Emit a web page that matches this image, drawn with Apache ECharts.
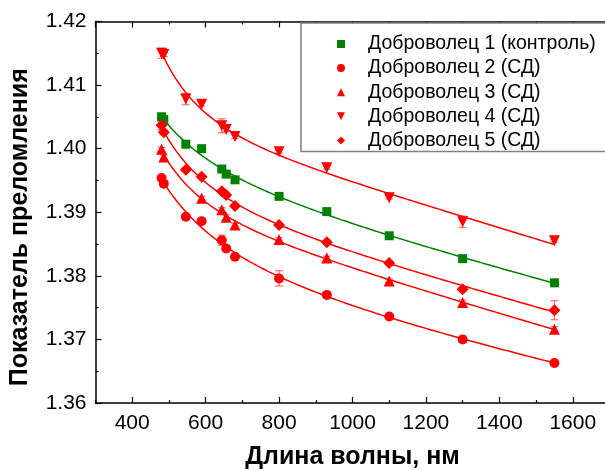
<!DOCTYPE html>
<html>
<head>
<meta charset="utf-8">
<script src="https://cdn.jsdelivr.net/npm/echarts@6/dist/echarts.min.js"></script>
<style>
  html, body { margin: 0; padding: 0; background: #fff; }
  #chart { width: 605px; height: 470px; }
</style>
</head>
<body>
<div id="chart"></div>
<script>
// Measurement wavelengths, nm
const wavelengths = [480, 486, 546, 589, 644, 656, 680, 800, 930, 1100, 1300, 1550];

const seriesNames = [
  'Доброволец 1 (контроль)',
  'Доброволец 2 (СД)',
  'Доброволец 3 (СД)',
  'Доброволец 4 (СД)',
  'Доброволец 5 (СД)'
];

// Refractive index per volunteer (null = not measured)
const volunteer1 = [1.4050, 1.4046, 1.4007, 1.4000, 1.3968, 1.3960, 1.3951, 1.3925, 1.3901, 1.3863, 1.3827, 1.3789];
const volunteer2 = [1.3954, 1.3945, 1.3893, 1.3886, 1.3856, 1.3843, 1.3830, 1.3796, 1.3770, 1.3736, 1.3700, 1.3663];
const volunteer3 = [1.3999, 1.3987, null,   1.3922, 1.3904, 1.3892, 1.3880, 1.3857, 1.3828, 1.3792, 1.3758, 1.3716];
const volunteer4 = [1.4150, 1.4148, 1.4078, 1.4070, 1.4036, 1.4030, 1.4019, 1.3995, 1.3970, 1.3923, 1.3885, 1.3855];
const volunteer5 = [1.4037, 1.4026, 1.3967, 1.3956, 1.3933, 1.3927, 1.3910, 1.3880, 1.3853, 1.3820, 1.3779, 1.3746];

// Standard deviations
const error1 = [0.0006, 0.0002, 0.0002, 0.0002, 0.0002, 0.0002, 0.0002, 0.0002, 0.0002, 0.0002, 0.0002, 0.0002];
const error2 = [0.0003, 0.0002, 0.0002, 0.0002, 0.0008, 0.0003, 0.0003, 0.0012, 0.0004, 0.0002, 0.0005, 0.0004];
const error3 = [0.0003, 0.0003, null,   0.0003, 0.0003, 0.0004, 0.0003, 0.0003, 0.0003, 0.0003, 0.0004, 0.0004];
const error4 = [0.0008, 0.0003, 0.0009, 0.0003, 0.0011, 0.0003, 0.0003, 0.0002, 0.0002, 0.0002, 0.0009, 0.0002];
const error5 = [0.0007, 0.0003, 0.0003, 0.0003, 0.0003, 0.0003, 0.0003, 0.0003, 0.0003, 0.0003, 0.0003, 0.0015];

// Y-axis tick labels
const yTicks = [1.36, 1.37, 1.38, 1.39, 1.40, 1.41, 1.42];

const RED = '#ff0000';
const GREEN = '#008000';
const FONT = '"Liberation Sans", Arial, sans-serif';
const DOWN_TRIANGLE = 'path://M0,0L2,0L1,2Z';

const styles = [
  { color: GREEN, symbol: 'rect', size: 9, bar: 'rgba(0,128,0,0.55)' },
  { color: RED, symbol: 'circle', size: 10, bar: 'rgba(255,0,0,0.55)' },
  { color: RED, symbol: 'triangle', size: 11, bar: 'rgba(255,0,0,0.55)' },
  { color: RED, symbol: DOWN_TRIANGLE, size: 11, bar: 'rgba(255,0,0,0.55)' },
  { color: RED, symbol: 'diamond', size: 12, bar: 'rgba(255,0,0,0.55)' }
];

const values = [volunteer1, volunteer2, volunteer3, volunteer4, volunteer5];
const errors = [error1, error2, error3, error4, error5];

// Linear least squares on dispersion basis: n = A + B·λ + C/λ² + D/λ⁴ (λ in µm)
const basis = lam => { const u = lam / 1000; return [1, u, 1 / (u * u), 1 / (u * u * u * u)]; };

function dispersionFit(xs, ys) {
  const m = 4;
  const M = Array.from({ length: m }, () => new Array(m + 1).fill(0));
  xs.forEach((x, i) => {
    if (ys[i] == null) return;
    const r = basis(x);
    for (let a = 0; a < m; a++) {
      M[a][m] += r[a] * ys[i];
      for (let b = 0; b < m; b++) M[a][b] += r[a] * r[b];
    }
  });
  for (let c = 0; c < m; c++) {
    let p = c;
    for (let r = c + 1; r < m; r++) if (Math.abs(M[r][c]) > Math.abs(M[p][c])) p = r;
    [M[c], M[p]] = [M[p], M[c]];
    for (let r = 0; r < m; r++) {
      if (r === c) continue;
      const f = M[r][c] / M[c][c];
      for (let k = c; k <= m; k++) M[r][k] -= f * M[c][k];
    }
  }
  const coef = M.map((row, i) => row[m] / row[i]);
  return lam => basis(lam).reduce((s, b, i) => s + b * coef[i], 0);
}

function fitCurve(ys) {
  const f = dispersionFit(wavelengths, ys);
  const xs = wavelengths.filter((x, i) => ys[i] != null);
  const lo = Math.min(...xs), hi = Math.max(...xs);
  const pts = [];
  for (let lam = lo; lam <= hi; lam += 5) pts.push([lam, f(lam)]);
  return pts;
}

function errorBarRenderer(color) {
  return function (params, api) {
    const x = api.value(0);
    const top = api.coord([x, api.value(2)]);
    const bot = api.coord([x, api.value(1)]);
    const w = 4;
    const st = { stroke: color, lineWidth: 1.2 };
    return {
      type: 'group',
      children: [
        { type: 'line', shape: { x1: top[0], y1: top[1], x2: bot[0], y2: bot[1] }, style: st },
        { type: 'line', shape: { x1: top[0] - w, y1: top[1], x2: top[0] + w, y2: top[1] }, style: st },
        { type: 'line', shape: { x1: bot[0] - w, y1: bot[1], x2: bot[0] + w, y2: bot[1] }, style: st }
      ]
    };
  };
}

const series = [];
values.forEach((ys, k) => {
  const s = styles[k];
  series.push({
    name: seriesNames[k],
    type: 'line',
    data: fitCurve(ys),
    showSymbol: false,
    symbol: 'none',
    lineStyle: { color: s.color, width: 1.5 },
    itemStyle: { color: s.color },
    silent: true,
    z: 2
  });
  series.push({
    name: seriesNames[k],
    type: 'custom',
    renderItem: errorBarRenderer(s.bar),
    data: wavelengths
      .map((x, i) => ys[i] == null ? null : [x, ys[i] - errors[k][i], ys[i] + errors[k][i]])
      .filter(d => d),
    itemStyle: { color: s.color },
    z: 3
  });
  series.push({
    name: seriesNames[k],
    type: 'scatter',
    data: wavelengths.map((x, i) => ys[i] == null ? null : [x, ys[i]]).filter(d => d),
    symbol: s.symbol,
    symbolSize: s.size,
    itemStyle: { color: s.color, opacity: 1 },
    z: 4
  });
});

const axisLine = { show: true, onZero: false, lineStyle: { color: '#000', width: 1.5 } };
const majorTick = { show: true, inside: true, length: 6, lineStyle: { color: '#000', width: 1.2 } };
const minorTickStyle = { show: true, inside: true, length: 3, lineStyle: { color: '#000', width: 1.2 } };

const chart = echarts.init(document.getElementById('chart'), null, { renderer: 'canvas' });
chart.setOption({
  animation: false,
  backgroundColor: '#fff',
  grid: { left: 95.5, top: 21.5, right: -4.5, bottom: 67, containLabel: false, outerBoundsMode: 'none' },
  legend: {
    orient: 'vertical',
    left: 301,
    top: 23,
    padding: [11, 40, 1, 36],
    itemGap: 4.1,
    itemWidth: 8,
    itemHeight: 8,
    backgroundColor: '#fff',
    borderColor: '#808080',
    borderWidth: 1.5,
    borderRadius: 0,
    selectedMode: false,
    textStyle: { fontFamily: FONT, fontSize: 19.5, color: '#000', lineHeight: 20, padding: [0, 0, 0, 18] },
    data: seriesNames.map((n, k) => ({ name: n, icon: styles[k].symbol, itemStyle: { color: styles[k].color } }))
  },
  xAxis: [
    {
      type: 'value', position: 'bottom', min: 300, max: 1700, splitNumber: 7,
      axisLine,
      axisTick: majorTick,
      axisLabel: { show: true, showMinLabel: false, showMaxLabel: false, margin: 10,
        fontFamily: FONT, fontSize: 21, color: '#000', formatter: v => String(v) },
      splitLine: { show: false },
      name: 'Длина волны, нм', nameLocation: 'middle', nameGap: 42,
      nameTextStyle: { fontFamily: FONT, fontSize: 25, fontWeight: 'bold', color: '#000' }
    },
    {
      // minor ticks at the odd hundreds
      type: 'value', position: 'bottom', min: 300, max: 1700, interval: 200,
      axisLine: { show: false },
      axisTick: minorTickStyle,
      axisLabel: { show: false }, splitLine: { show: false }
    },
    {
      type: 'value', position: 'top', min: 300, max: 1700, splitNumber: 7,
      axisLine,
      axisTick: majorTick,
      axisLabel: { show: false }, splitLine: { show: false }
    },
    {
      type: 'value', position: 'top', min: 300, max: 1700, interval: 200,
      axisLine: { show: false },
      axisTick: minorTickStyle,
      axisLabel: { show: false }, splitLine: { show: false }
    }
  ],
  yAxis: [
    {
      type: 'value', position: 'left', min: yTicks[0], max: yTicks[yTicks.length - 1], interval: 0.01,
      axisLine,
      axisTick: majorTick,
      minorTick: { show: true, splitNumber: 2, length: 3, lineStyle: { color: '#000', width: 1.2 } },
      axisLabel: { margin: 9, fontFamily: FONT, fontSize: 21, color: '#000', formatter: v => v.toFixed(2) },
      splitLine: { show: false },
      name: 'Показатель преломления', nameLocation: 'middle', nameGap: 63,
      nameTextStyle: { fontFamily: FONT, fontSize: 25, fontWeight: 'bold', color: '#000', padding: [0, 30, 0, 0] }
    }
  ],
  series
});
</script>
</body>
</html>
